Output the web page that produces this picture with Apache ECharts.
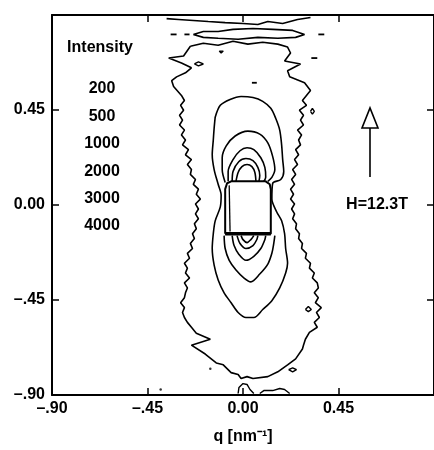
<!DOCTYPE html>
<html>
<head>
<meta charset="utf-8">
<script src="https://cdn.jsdelivr.net/npm/echarts@6/dist/echarts.min.js"></script>
<style>
  html, body { margin: 0; background: #fff; }
  #chart { width: 434px; height: 450px; }
</style>
</head>
<body>
<div id="chart"></div>
<script>
// contour levels shown in the legend
var levels = ['200', '500', '1000', '2000', '3000', '4000'];
// axis ticks (q in nm^-1)
var tickMin = -0.9, tickMax = 0.9, tickStep = 0.45;

// outermost contour (200) in pieces, clockwise
var c200Top = [[-0.248,0.752],[-0.187,0.766],[-0.117,0.757],[-0.047,0.776],[0.023,0.762],[0.093,0.771],[0.164,0.762],[0.210,0.748],[0.224,0.720],[0.196,0.682],[0.271,0.668],[0.210,0.636],[0.220,0.607],[0.290,0.579],[0.318,0.542]];
var c200Right = [[0.280,0.495],[0.299,0.472],[0.266,0.449],[0.285,0.425],[0.271,0.402],[0.285,0.379],[0.257,0.355],[0.276,0.332],[0.262,0.308],[0.271,0.285],[0.248,0.262],[0.262,0.238],[0.243,0.215],[0.257,0.192],[0.234,0.168],[0.248,0.145],[0.229,0.121],[0.243,0.098],[0.224,0.075],[0.238,0.051],[0.224,0.028],[0.243,0.005],[0.229,-0.019],[0.243,-0.042],[0.234,-0.065],[0.252,-0.089],[0.248,-0.112],[0.266,-0.136],[0.262,-0.159],[0.280,-0.182],[0.276,-0.206],[0.299,-0.229],[0.294,-0.252],[0.318,-0.276],[0.313,-0.299],[0.336,-0.322],[0.327,-0.346],[0.350,-0.369],[0.355,-0.393],[0.336,-0.416],[0.355,-0.439],[0.341,-0.463],[0.369,-0.486],[0.346,-0.509],[0.360,-0.533],[0.336,-0.556],[0.350,-0.579]];
var c200Bottom = [[0.313,-0.603],[0.294,-0.636],[0.285,-0.664],[0.280,-0.682],[0.248,-0.729],[0.210,-0.757],[0.164,-0.790],[0.117,-0.813],[0.047,-0.822],[0.019,-0.813],[-0.009,-0.822],[-0.023,-0.803],[-0.056,-0.794],[-0.093,-0.757],[-0.126,-0.748],[-0.178,-0.706],[-0.243,-0.664],[-0.154,-0.636],[-0.220,-0.607]];
var c200Left = [[-0.243,-0.579],[-0.262,-0.556],[-0.276,-0.533],[-0.285,-0.509],[-0.276,-0.486],[-0.294,-0.463],[-0.276,-0.439],[-0.271,-0.416],[-0.262,-0.393],[-0.276,-0.369],[-0.252,-0.346],[-0.271,-0.322],[-0.262,-0.299],[-0.276,-0.276],[-0.252,-0.252],[-0.262,-0.229],[-0.238,-0.206],[-0.248,-0.182],[-0.229,-0.159],[-0.238,-0.136],[-0.220,-0.112],[-0.229,-0.089],[-0.210,-0.065],[-0.224,-0.042],[-0.210,-0.019],[-0.224,0.005],[-0.201,0.028],[-0.220,0.051],[-0.210,0.075],[-0.234,0.098],[-0.224,0.121],[-0.248,0.145],[-0.243,0.168],[-0.262,0.192],[-0.243,0.215],[-0.271,0.238],[-0.257,0.262],[-0.285,0.285],[-0.271,0.308],[-0.290,0.332],[-0.276,0.355],[-0.299,0.379],[-0.285,0.402],[-0.299,0.425],[-0.280,0.449],[-0.294,0.472],[-0.276,0.495],[-0.290,0.519]];
var c200TopLeft = [[-0.327,0.561],[-0.336,0.589],[-0.313,0.607],[-0.271,0.626],[-0.243,0.650],[-0.290,0.673],[-0.350,0.696],[-0.280,0.706]];

var contour500 = [[-0.131,0.416],[-0.107,0.472],[-0.061,0.500],[-0.009,0.514],[0.047,0.509],[0.093,0.491],[0.131,0.458],[0.154,0.411],[0.173,0.355],[0.182,0.285],[0.187,0.215],[0.192,0.159],[0.178,0.121],[0.140,0.103],[0.136,0.028],[0.159,-0.033],[0.182,-0.075],[0.196,-0.136],[0.201,-0.206],[0.210,-0.276],[0.201,-0.322],[0.173,-0.393],[0.136,-0.453],[0.093,-0.495],[0.051,-0.533],[0.014,-0.533],[-0.023,-0.509],[-0.056,-0.463],[-0.089,-0.416],[-0.117,-0.355],[-0.136,-0.285],[-0.145,-0.206],[-0.140,-0.136],[-0.131,-0.075],[-0.107,-0.009],[-0.103,0.047],[-0.117,0.098],[-0.136,0.168],[-0.145,0.238],[-0.140,0.308],[-0.136,0.364]];
var contour1000Up = [[-0.084,0.107],[-0.098,0.168],[-0.098,0.224],[-0.079,0.280],[-0.037,0.327],[0.023,0.350],[0.079,0.336],[0.117,0.294],[0.140,0.229],[0.150,0.168],[0.136,0.131],[0.117,0.112]];
var contour2000Up = [[-0.070,0.112],[-0.070,0.159],[-0.047,0.215],[-0.014,0.257],[0.019,0.271],[0.051,0.262],[0.084,0.224],[0.103,0.178],[0.107,0.131],[0.098,0.112]];
var contour3000Up = [[-0.051,0.112],[-0.047,0.159],[-0.019,0.206],[0.014,0.220],[0.047,0.210],[0.070,0.178],[0.079,0.140],[0.075,0.112]];
var contour4000Up = [[-0.033,0.112],[-0.023,0.154],[-0.005,0.182],[0.019,0.192],[0.042,0.182],[0.056,0.154],[0.061,0.112]];
var contour1000Down = [[-0.089,-0.145],[-0.084,-0.206],[-0.065,-0.262],[-0.033,-0.308],[0.005,-0.346],[0.037,-0.364],[0.079,-0.327],[0.117,-0.280],[0.136,-0.229],[0.145,-0.182],[0.150,-0.145]];
var contour2000Down = [[-0.051,-0.145],[-0.042,-0.192],[-0.019,-0.234],[0.014,-0.262],[0.051,-0.243],[0.084,-0.206],[0.103,-0.164],[0.107,-0.145]];
var contour3000Down = [[-0.028,-0.145],[-0.014,-0.182],[0.014,-0.206],[0.047,-0.192],[0.065,-0.164],[0.070,-0.145]];
var contour4000Down = [[-0.009,-0.145],[0,-0.164],[0.019,-0.178],[0.037,-0.164],[0.051,-0.145]];

// beam stop outline
var beamStop = [[-0.084,-0.136],[-0.084,0.075],[-0.075,0.103],[-0.056,0.112],[0.107,0.112],[0.126,0.098],[0.131,0.075],[0.131,-0.136],[-0.084,-0.136]];
var beamStopInner = [[-0.065,0.093],[-0.061,-0.126]];
var beamStopBottom = [[-0.084,-0.136],[0.131,-0.136]];

// noisy contours near the edges
var topStreak = [[-0.360,0.883],[-0.304,0.879],[-0.234,0.874],[-0.164,0.869],[-0.084,0.864],[0,0.860],[0.070,0.855],[0.117,0.869],[0.187,0.860],[0.257,0.879],[0.318,0.888]];
var topOval = [[-0.234,0.808],[-0.187,0.822],[-0.117,0.822],[-0.047,0.832],[0.047,0.836],[0.140,0.832],[0.234,0.827],[0.290,0.808],[0.248,0.794],[0.164,0.790],[0.070,0.794],[-0.023,0.785],[-0.117,0.790],[-0.187,0.794]];
var islands = [
  [[-0.112,0.729],[-0.103,0.738],[-0.093,0.729],[-0.103,0.720]],
  [[-0.229,0.668],[-0.210,0.678],[-0.187,0.668],[-0.210,0.659]],
  [[0.318,0.444],[0.327,0.458],[0.336,0.444],[0.327,0.430]],
  [[0.294,-0.495],[0.308,-0.481],[0.322,-0.495],[0.308,-0.505]],
  [[0.215,-0.780],[0.234,-0.771],[0.252,-0.780],[0.234,-0.790]]
];
var dashes = [
  [[-0.341,0.808],[-0.313,0.808]],
  [[-0.276,0.808],[-0.252,0.808]],
  [[0.355,0.808],[0.383,0.808]],
  [[0.322,0.696],[0.350,0.696]],
  [[0.042,0.579],[0.065,0.579]]
];
var bottomBumps = [
  [[-0.023,-0.893],[-0.019,-0.864],[0,-0.846],[0.019,-0.850],[0.033,-0.874],[0.051,-0.893]],
  [[0.079,-0.893],[0.098,-0.879],[0.140,-0.879],[0.173,-0.869],[0.196,-0.874],[0.220,-0.893]]
];
var dots = [[-0.154,-0.776],[-0.388,-0.874]];

var FONT = 'Liberation Sans, Arial, Helvetica, sans-serif';

function fmt(v) {
  if (Math.abs(v) < 1e-9) return '0.00';
  var s = Math.abs(v).toFixed(2);
  return v < 0 ? '\u2013' + s.slice(1) : s;
}

function line(data, closed, smooth, width) {
  return {
    type: 'line',
    data: closed ? data.concat([data[0]]) : data,
    symbol: 'none',
    smooth: smooth || false,
    lineStyle: { color: '#000', width: width || 1.6 },
    silent: true,
    z: 3
  };
}

var contour200 = c200Top.concat(c200Right, c200Bottom, c200Left, c200TopLeft);

var series = [
  line(contour200, true, false),
  line(contour500, true, 0.3),
  line(contour1000Up, false, 0.3),
  line(contour2000Up, false, 0.3),
  line(contour3000Up, false, 0.3),
  line(contour4000Up, false, 0.3),
  line(contour1000Down, false, 0.3),
  line(contour2000Down, false, 0.3),
  line(contour3000Down, false, 0.3),
  line(contour4000Down, false, 0.3),
  line(beamStop, false, false, 2),
  line(beamStopInner, false, false, 1.3),
  line(beamStopBottom, false, false, 3.5),
  line(topStreak, false, false),
  line(topOval, true, false)
];
islands.forEach(function (d) { series.push(line(d, true, false, 1.4)); });
dashes.forEach(function (d) { series.push(line(d, false, false, 1.8)); });
bottomBumps.forEach(function (d) { series.push(line(d, false, false, 1.4)); });
series.push({ type: 'scatter', data: dots, symbolSize: 2.5, itemStyle: { color: '#000' }, silent: true });

var labelStyle = { color: '#000', fontSize: 16, fontWeight: 'bold', fontFamily: FONT };
function axisBase(extra) {
  var a = {
    type: 'value', min: tickMin, max: tickMax, interval: tickStep,
    axisLine: { onZero: false, lineStyle: { color: '#000', width: 2 } },
    axisTick: { inside: true, length: 7, lineStyle: { color: '#000', width: 1.5 } },
    splitLine: { show: false }
  };
  for (var k in extra) a[k] = extra[k];
  return a;
}

var chart = echarts.init(document.getElementById('chart'));
chart.setOption({
  animation: false,
  backgroundColor: '#fff',
  grid: { left: 52, top: 15, right: -2, bottom: 53 },
  xAxis: [
    axisBase({
      position: 'bottom',
      axisLabel: Object.assign({ formatter: fmt, margin: 6, showMaxLabel: false }, labelStyle),
      name: 'q [nm\u207B\u00B9]', nameLocation: 'middle', nameGap: 34,
      nameTextStyle: labelStyle
    }),
    axisBase({ position: 'top', axisLabel: { show: false } })
  ],
  yAxis: [
    axisBase({
      position: 'left',
      axisLabel: Object.assign({ formatter: fmt, margin: 7, showMaxLabel: false }, labelStyle)
    }),
    axisBase({ position: 'right', axisLabel: { show: false } })
  ],
  graphic: [
    { type: 'text', x: 100, y: 48, style: { text: 'Intensity', font: 'bold 16px ' + FONT, fill: '#000', textAlign: 'center', textVerticalAlign: 'middle' } }
  ].concat(levels.map(function (t, i) {
    return { type: 'text', x: 102, y: 89 + i * 27.4, style: { text: t, font: 'bold 16px ' + FONT, fill: '#000', textAlign: 'center', textVerticalAlign: 'middle' } };
  })).concat([
    { type: 'line', shape: { x1: 370, y1: 128, x2: 370, y2: 177 }, style: { stroke: '#000', lineWidth: 1.6 } },
    { type: 'polygon', shape: { points: [[362, 128], [378, 128], [370, 108]] }, style: { fill: '#fff', stroke: '#000', lineWidth: 1.6 } },
    { type: 'text', x: 377, y: 205, style: { text: 'H=12.3T', font: 'bold 16px ' + FONT, fill: '#000', textAlign: 'center', textVerticalAlign: 'middle' } }
  ]),
  series: series
});
</script>
</body>
</html>
